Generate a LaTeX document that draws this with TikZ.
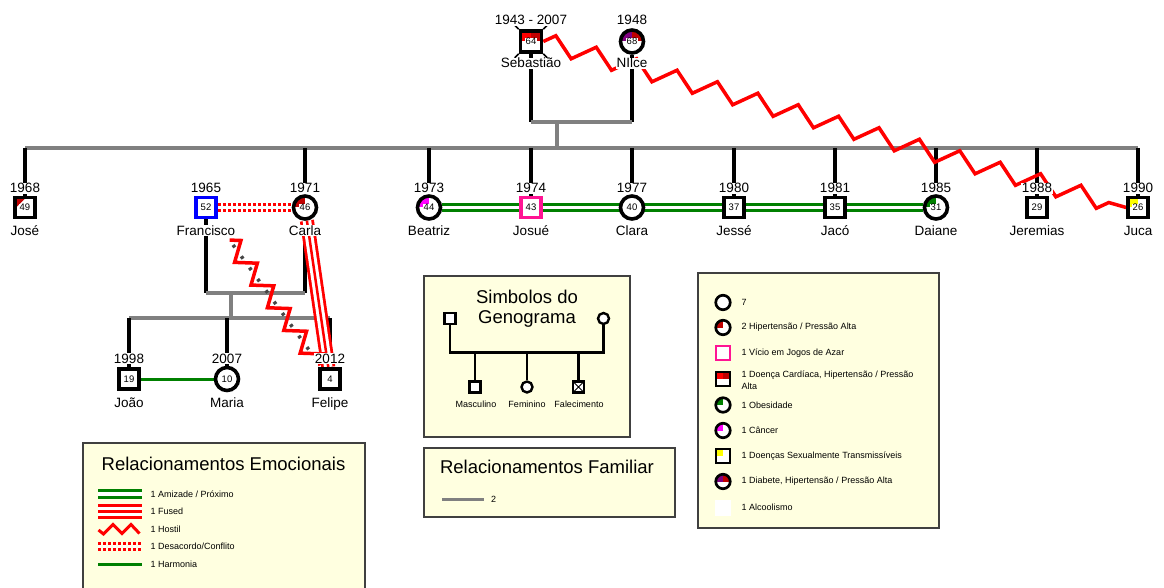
\documentclass[tikz,border=0pt]{standalone}
\usepackage{fontspec}
\setmainfont{Liberation Sans}
\usetikzlibrary{decorations.pathmorphing,calc}
\definecolor{dred}{RGB}{192,0,0}
\definecolor{gpink}{RGB}{255,20,147}
\definecolor{gmag}{RGB}{255,0,255}
\definecolor{ggreen}{RGB}{0,128,0}
\definecolor{gpurple}{RGB}{128,0,128}
\definecolor{gyellow}{RGB}{255,255,0}
\definecolor{lyellow}{RGB}{255,255,224}
\definecolor{boxedge}{RGB}{64,64,64}
\definecolor{famgray}{RGB}{128,128,128}
\definecolor{mkgray}{RGB}{70,70,70}
\newcommand\agesz{\fontsize{9.5}{10}\selectfont}
\newcommand\agebox[1]{{\setlength{\fboxsep}{0.5pt}\colorbox{white}{#1}}}
\pgfdeclarelayer{bg}
\pgfsetlayers{bg,main}
\tikzset{
 male/.style={rectangle, draw=black, fill=white, line width=3.6pt, minimum size=20pt, inner sep=0pt, font=\agesz},
 female/.style={circle, draw=black, fill=white, line width=3.6pt, minimum size=23pt, inner sep=0pt, font=\agesz},
 tlq/.style={path picture={\fill[#1] (path picture bounding box.center) rectangle (path picture bounding box.north west);}},
 halves/.style 2 args={path picture={\fill[#1] (path picture bounding box.center) rectangle (path picture bounding box.north west);
   \fill[#2] (path picture bounding box.center) rectangle (path picture bounding box.north east);}},
 jtri/.style={path picture={\fill[dred] (path picture bounding box.north west) -- ([xshift=11pt]path picture bounding box.north west) -- ([yshift=-11pt]path picture bounding box.north west) -- cycle;}},
 lbl/.style={font=\fontsize{13.5}{15}\selectfont, fill=white, inner sep=0.5pt, anchor=base},
 blk/.style={draw=black, line width=3.6pt},
 fam/.style={draw=famgray, line width=3.6pt},
 amizade/.style={draw=ggreen, line width=3pt, double=white, double distance=3.5pt},
 harmonia/.style={draw=ggreen, line width=3pt},
 conflito/.style={draw=red, line width=3pt, double=white, double distance=3pt, dash pattern=on 3pt off 2pt},
 fused/.style={draw=red, line width=2.5pt, preaction={draw=red, line width=2.8pt, double=white, double distance=8.5pt}},
 hostile/.style={draw=red, line width=3.5pt, decorate, decoration={zigzag, segment length=#1, amplitude=9pt}},
 hostile/.default=42pt,
 markers/.style={draw=mkgray, line width=3.5pt, dash pattern=on 3pt off 11pt, dash phase=-6pt},
 legbox/.style={draw=boxedge, line width=1.3pt, fill=lyellow},
 ttl/.style={font=\fontsize{18.5}{21}\selectfont, anchor=base},
 sm/.style={font=\fontsize{9}{11.5}\selectfont, anchor=west, inner sep=0pt},
 smc/.style={font=\fontsize{9}{11}\selectfont, anchor=base, inner sep=0pt},
 lmale/.style={rectangle, draw=black, fill=white, line width=2.7pt, minimum size=14pt, inner sep=0pt},
 lfemale/.style={circle, draw=black, fill=white, line width=2.7pt, minimum size=14.5pt, inner sep=0pt},
 smale/.style={rectangle, draw=black, fill=white, line width=2.4pt, minimum size=11pt, inner sep=0pt},
 sfemale/.style={circle, draw=black, fill=white, line width=2.4pt, minimum size=11pt, inner sep=0pt},
}
\begin{document}
\begin{tikzpicture}[x=1pt,y=-1pt]
\useasboundingbox (0,0) rectangle (1164,588);

% ---------- persons ----------
\node[male, minimum size=21pt, halves={red}{dred}] (seb) at (531,41.5) {\agebox{64}};
\node[female, halves={gpurple}{dred}] (nil) at (632,41.5) {\agebox{68}};
\node[male, jtri] (jose) at (25,207.5) {\agebox{49}};
\node[male, draw=blue] (fran) at (206,207.5) {\agebox{52}};
\node[female, tlq=dred] (carla) at (305,207.5) {\agebox{46}};
\node[female, tlq=gmag] (beat) at (429,207.5) {\agebox{44}};
\node[male, draw=gpink] (josue) at (531,207.5) {\agebox{43}};
\node[female] (clara) at (632,207.5) {\agebox{40}};
\node[male] (jesse) at (734,207.5) {\agebox{37}};
\node[male] (jaco) at (835,207.5) {\agebox{35}};
\node[female, tlq=ggreen] (daiane) at (936,207.5) {\agebox{31}};
\node[male] (jere) at (1037,207.5) {\agebox{29}};
\node[male, tlq=gyellow] (juca) at (1138,207.5) {\agebox{26}};
\node[male] (joao) at (129,379) {\agebox{19}};
\node[female] (maria) at (227,379) {\agebox{10}};
\node[male] (felipe) at (330,379) {\agebox{4}};

% deceased marks
\draw[line width=1.6pt] (seb.north west) -- ++(-4pt,4pt);
\draw[line width=1.6pt] (seb.north east) -- ++(4pt,4pt);
\draw[line width=1.6pt] (seb.south west) -- ++(-4pt,-4pt);
\draw[line width=1.6pt] (seb.south east) -- ++(4pt,-4pt);

% ---------- labels ----------
\node[lbl] (seb-y) at (531,25) {1943 - 2007};
\node[lbl] (seb-n) at (531,68) {Sebastião};
\node[lbl] (nil-y) at (632,25) {1948};
\node[lbl] (nil-n) at (632,68) {NIlce};
\foreach \n/\x/\yr/\nm in {jose/25/1968/José, fran/206/1965/Francisco, carla/305/1971/Carla, beat/429/1973/Beatriz, josue/531/1974/Josué, clara/632/1977/Clara, jesse/734/1980/Jessé, jaco/835/1981/Jacó, daiane/936/1985/Daiane, jere/1037/1988/Jeremias, juca/1138/1990/Juca}{
  \node[lbl] (\n-y) at (\x,193) {\yr};
  \node[lbl] (\n-n) at (\x,235.5) {\nm};
}
\foreach \n/\x/\yr/\nm in {joao/129/1998/João, maria/227/2007/Maria, felipe/330/2012/Felipe}{
  \node[lbl] (\n-y) at (\x,363) {\yr};
  \node[lbl] (\n-n) at (\x,407) {\nm};
}

% ---------- structure and relations (behind) ----------
\begin{pgfonlayer}{bg}
\coordinate (pL) at (531,122);
\coordinate (pR) at (632,122);
\coordinate (pM) at (557,122);
\coordinate (sibM) at (557,148);
\coordinate (sibL) at (25,148);
\coordinate (sibR) at (1138,148);
\draw[blk] (seb.south) -- (pL);
\draw[blk] (nil.south) -- (pR);
\draw[fam] (pL) -- (pR);
\draw[fam] (pM) -- (sibM);
\draw[fam] (sibL) -- (sibR);
\foreach \n in {jose,carla,beat,josue,clara,jesse,jaco,daiane,jere,juca}{
  \draw[blk] (\n.north |- sibL) -- (\n.north);
}
\coordinate (fc1) at (206,293);
\coordinate (fc2) at (305,293);
\coordinate (fcm) at (231,293);
\coordinate (kidM) at (231,318);
\coordinate (kidL) at (129,318);
\coordinate (kidR) at (330,318);
\draw[blk] (fran.south) -- (fc1);
\draw[blk] (carla.south) -- (fc2);
\draw[fam] (fc1) -- (fc2);
\draw[fam] (fcm) -- (kidM);
\draw[fam] (kidL) -- (kidR);
\foreach \n in {joao,maria,felipe}{
  \draw[blk] (\n.north |- kidL) -- (\n.north);
}
% relations
\draw[amizade] (beat) -- (daiane);
\draw[conflito] (fran.east) -- (carla.west);
\draw[harmonia] (joao) -- (maria);
\draw[fused] (carla) -- (felipe);
\draw[hostile=28pt] ($(fran)!0.19!(felipe)$) -- ($(fran)!0.92!(felipe)$);
\draw[markers] ($(fran)!0.19!(felipe)$) -- ($(fran)!0.92!(felipe)$);
\draw[hostile] (seb.east) -- (juca.west);
\end{pgfonlayer}

% ---------- legend: Simbolos do Genograma ----------
\draw[legbox] (424,276) rectangle (630,437);
\node[ttl] (s-t1) at (527,303) {Simbolos do};
\node[ttl] (s-t2) at (527,323) {Genograma};
\node[smale] (s-p1) at (450,318.5) {};
\node[sfemale] (s-p2) at (603.5,318.5) {};
\node[smale] (s-m) at (475,387) {};
\node[sfemale] (s-f) at (527,387) {};
\node[smale, path picture={\draw[line width=1pt] (path picture bounding box.north west) -- (path picture bounding box.south east) (path picture bounding box.north east) -- (path picture bounding box.south west);}] (s-d) at (578.5,387) {};
\coordinate (s-j1) at (450,352.5);
\coordinate (s-j2) at (603.5,352.5);
\draw[draw=black, line width=2.4pt] (s-p1.south) -- (s-j1) -- (s-j2) -- (s-p2.south);
\draw[draw=black, line width=2.4pt] (s-m.north |- s-j1) -- (s-m.north);
\draw[draw=black, line width=2.4pt] (s-f.north |- s-j1) -- (s-f.north);
\draw[draw=black, line width=2.4pt] (s-d.north |- s-j1) -- (s-d.north);
\node[smc] (s-ml) at (476,407.5) {Masculino};
\node[smc] (s-fl) at (527,407.5) {Feminino};
\node[smc] (s-dl) at (579,407.5) {Falecimento};

% ---------- legend: Relacionamentos Emocionais ----------
\draw[legbox] (83,443) rectangle (365,600);
\node[ttl] (e-t) at (223.5,470) {Relacionamentos Emocionais};
\coordinate (e1a) at (98,494); \coordinate (e1b) at (141.5,494);
\draw[amizade] (e1a) -- (e1b);
\coordinate (e2a) at (98,511.5); \coordinate (e2b) at (141.5,511.5);
\draw[fused] (e2a) -- (e2b);
\draw[draw=red, line width=3pt] (98.5,530) -- (103.5,534) -- (113,524.5) -- (122,533.5) -- (131,524.5) -- (139.5,533.5);
\coordinate (e4a) at (98,546.5); \coordinate (e4b) at (141.5,546.5);
\draw[conflito] (e4a) -- (e4b);
\coordinate (e5a) at (98,564); \coordinate (e5b) at (141.5,564);
\draw[harmonia] (e5a) -- (e5b);
\node[sm] (e1) at (150.5,494) {1 Amizade / Próximo};
\node[sm] (e2) at (150.5,511.5) {1 Fused};
\node[sm] (e3) at (150.5,529) {1 Hostil};
\node[sm] (e4) at (150.5,546.5) {1 Desacordo/Conflito};
\node[sm] (e5) at (150.5,564) {1 Harmonia};

% ---------- legend: Relacionamentos Familiar ----------
\draw[legbox] (424,448) rectangle (675,517);
\node[ttl] (f-t) at (547,473.5) {Relacionamentos Familiar};
\coordinate (f1a) at (442,499.5); \coordinate (f1b) at (484,499.5);
\draw[draw=famgray, line width=2.8pt] (f1a) -- (f1b);
\node[sm] (f1) at (491,499.5) {2};

% ---------- legend: conditions ----------
\draw[legbox] (698,273) rectangle (939,528);
\node[lfemale] (c1) at (723,302.5) {};
\node[lfemale, tlq=dred] (c2) at (723,327.5) {};
\node[lmale, draw=gpink] (c3) at (723,353) {};
\node[lmale, halves={red}{dred}] (c4) at (723,379) {};
\node[lfemale, tlq=ggreen] (c5) at (723,405) {};
\node[lfemale, tlq=gmag] (c6) at (723,430.5) {};
\node[lmale, tlq=gyellow] (c7) at (723,456) {};
\node[lfemale, halves={gpurple}{dred}] (c8) at (723,481.5) {};
\node[lmale, draw=none, minimum size=16pt] (c9) at (723,507.5) {};
\node[sm] (c1l) at (741.5,302.5) {7};
\node[sm] (c2l) at (741.5,327.5) {2 Hipertensão / Pressão Alta};
\node[sm] (c3l) at (741.5,353) {1 Vício em Jogos de Azar};
\node[sm, align=left] (c4l) at (741.5,380) {1 Doença Cardíaca, Hipertensão / Pressão\\Alta};
\node[sm] (c5l) at (741.5,405) {1 Obesidade};
\node[sm] (c6l) at (741.5,430.5) {1 Câncer};
\node[sm] (c7l) at (741.5,456) {1 Doenças Sexualmente Transmissíveis};
\node[sm] (c8l) at (741.5,481.5) {1 Diabete, Hipertensão / Pressão Alta};
\node[sm] (c9l) at (741.5,507.5) {1 Alcoolismo};
\end{tikzpicture}
\end{document}
